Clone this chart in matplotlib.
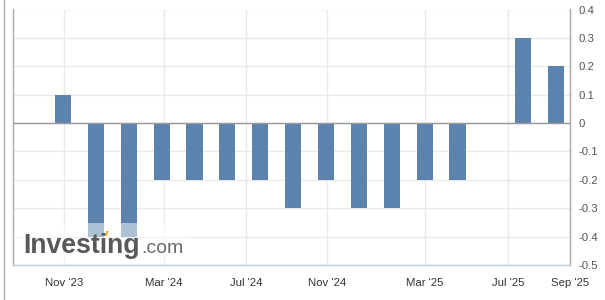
import matplotlib
matplotlib.use('Agg')
import matplotlib.pyplot as plt
from matplotlib.patches import Rectangle, Polygon
from matplotlib.lines import Line2D

plt.rcParams['font.family'] = ['Liberation Sans', 'DejaVu Sans']
plt.rcParams['axes.unicode_minus'] = False

# monthly change readings, oldest first (ordinal axis, one slot per release)
values = [0.1, -0.4, -0.4, -0.2, -0.2, -0.2, -0.2, -0.3, -0.2, -0.3, -0.3,
          -0.2, -0.2, 0.0, 0.3, 0.2]
tick_labels = ["Nov '23", "Mar '24", "Jul '24", "Nov '24", "Mar '25", "Jul '25", "Sep '25"]
tick_pos = [0.03, 3.07, 5.57, 8.03, 11.01, 13.54, 15.42]
y_ticks = [0.4, 0.3, 0.2, 0.1, 0, -0.1, -0.2, -0.3, -0.4, -0.5]

W, H = 605, 300
fig = plt.figure(figsize=(W / 100, H / 100), dpi=100)
ax = fig.add_axes([13 / W, 1 - 265 / H, (570 - 13) / W, (265 - 9.5) / H])

x = list(range(len(values)))
ax.bar(x, values, width=0.49, color='#5b83ad', zorder=2)
ax.axhline(0, color='#999999', lw=1, zorder=3)

ax.set_xlim(-1.52, 15.42)
ax.set_ylim(-0.5, 0.4)
ax.set_xticks(tick_pos)
ax.set_xticklabels(tick_labels, fontsize=8.2, color='#333333')
ax.set_yticks(y_ticks)
ax.set_yticklabels(['0' if v == 0 else f'{v:g}' for v in y_ticks],
                   fontsize=8.2, color='#555555')
ax.yaxis.tick_right()
ax.tick_params(axis='both', length=0)
ax.tick_params(axis='y', pad=6)
ax.tick_params(axis='x', pad=9)
ax.grid(True, color='#e9e9e9', lw=1, zorder=0)
ax.set_axisbelow(True)

for side in ['left', 'right']:
    ax.spines[side].set_color('#aaaaaa')
    ax.spines[side].set_linewidth(1)
ax.spines['top'].set_visible(False)
ax.spines['bottom'].set_color('#c0d0e0')
ax.spines['bottom'].set_linewidth(1)

# outer frame line on the left
fig.add_artist(Line2D([3.5 / W, 3.5 / W], [0, 1], color='#aaaaaa', lw=1))

# watermark
fig.add_artist(Rectangle((15 / W, 1 - 262 / H), 175 / W, 39 / H,
                         facecolor='white', alpha=0.5, edgecolor='none'))
fig.text(23 / W, 1 - 253 / H, 'Investing', fontsize=19.2, fontweight='bold',
         color='#595959', va='baseline')
fig.text(141 / W, 1 - 253 / H, '.com', fontsize=14, color='#6a6a6a',
         va='baseline')
px = [(104, 236), (107, 236), (109, 231), (106, 231)]
fig.add_artist(Polygon([(a / W, 1 - b / H) for a, b in px], closed=True,
                       facecolor='#f5b942', edgecolor='none'))

fig.savefig('out.png', dpi=100)
